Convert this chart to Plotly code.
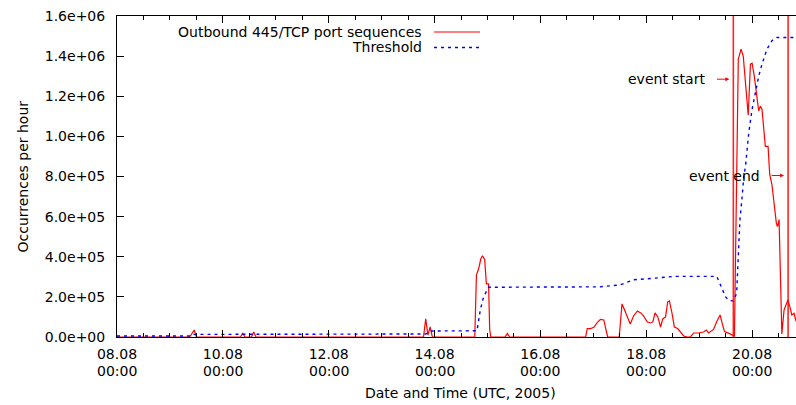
import plotly.graph_objects as go
import pandas as pd

series_names = ["Outbound 445/TCP port sequences", "Threshold"]

traffic_times = [
    "2005-08-08 00:00", "2005-08-09 09:00", "2005-08-09 11:00", "2005-08-09 12:00",
    "2005-08-10 08:00", "2005-08-10 09:00", "2005-08-10 10:00", "2005-08-10 13:00",
    "2005-08-10 14:00", "2005-08-10 15:00", "2005-08-13 19:00", "2005-08-13 20:00",
    "2005-08-13 21:00", "2005-08-13 22:00", "2005-08-13 23:00", "2005-08-14 18:15",
    "2005-08-14 19:00", "2005-08-14 20:00", "2005-08-14 21:00", "2005-08-14 21:45",
    "2005-08-14 22:45", "2005-08-14 23:30", "2005-08-15 00:30", "2005-08-15 01:00",
    "2005-08-15 01:30", "2005-08-15 08:00", "2005-08-15 09:00", "2005-08-15 10:00",
    "2005-08-16 20:30", "2005-08-16 21:15", "2005-08-16 22:45", "2005-08-17 00:15",
    "2005-08-17 01:45", "2005-08-17 03:15", "2005-08-17 04:45", "2005-08-17 05:30",
    "2005-08-17 06:30", "2005-08-17 11:45", "2005-08-17 13:00", "2005-08-17 14:00",
    "2005-08-17 15:30", "2005-08-17 16:45", "2005-08-17 18:15", "2005-08-17 20:00",
    "2005-08-17 21:30", "2005-08-17 22:45", "2005-08-18 00:30", "2005-08-18 02:00",
    "2005-08-18 03:00", "2005-08-18 04:00", "2005-08-18 05:15", "2005-08-18 06:30",
    "2005-08-18 07:30", "2005-08-18 08:45", "2005-08-18 09:45", "2005-08-18 10:30",
    "2005-08-18 11:45", "2005-08-18 12:45", "2005-08-18 14:15", "2005-08-18 15:30",
    "2005-08-18 17:00", "2005-08-18 18:30", "2005-08-18 20:00", "2005-08-18 21:30",
    "2005-08-18 23:45", "2005-08-19 02:00", "2005-08-19 03:15", "2005-08-19 04:15",
    "2005-08-19 06:30", "2005-08-19 08:00", "2005-08-19 09:30", "2005-08-19 10:30",
    "2005-08-19 11:30", "2005-08-19 13:30", "2005-08-19 15:00", "2005-08-19 16:00",
    "2005-08-19 17:45", "2005-08-19 19:00", "2005-08-19 20:00", "2005-08-19 21:00",
    "2005-08-19 22:15", "2005-08-19 23:15", "2005-08-20 00:00", "2005-08-20 01:00",
    "2005-08-20 02:15", "2005-08-20 03:00", "2005-08-20 03:45", "2005-08-20 04:30",
    "2005-08-20 06:00", "2005-08-20 07:15", "2005-08-20 08:00", "2005-08-20 09:00",
    "2005-08-20 11:00", "2005-08-20 11:30", "2005-08-20 12:15", "2005-08-20 12:45",
    "2005-08-20 13:15", "2005-08-20 13:30", "2005-08-20 14:30", "2005-08-20 16:15",
    "2005-08-20 17:30", "2005-08-20 18:00", "2005-08-20 19:00", "2005-08-20 20:00",
]
traffic_values = [
    0, 0, 35000, 0,
    0, 20000, 0, 0,
    25000, 0, 0, 90000,
    10000, 50000, 0, 0,
    310000, 340000, 390000, 405000,
    385000, 265000, 265000, 40000,
    0, 0, 18000, 0,
    0, 42000, 42000, 48000,
    72000, 88000, 85000, 50000,
    0, 0, 165000, 140000,
    100000, 65000, 105000, 130000,
    120000, 105000, 75000, 70000,
    75000, 120000, 100000, 50000,
    90000, 100000, 175000, 180000,
    115000, 50000, 42000, 25000,
    5000, 0, 0, 20000,
    20000, 25000, 35000, 20000,
    38000, 77000, 110000, 65000,
    27000, 18000, 10000, 5000,
    1385000, 1435000, 1400000, 1268000,
    1105000, 1360000, 1365000, 1300000,
    1200000, 1127000, 1150000, 1135000,
    950000, 950000, 810000, 760000,
    568000, 550000, 585000, 335000,
    60000, 15000, 135000, 185000,
    135000, 110000, 118000, 77000,
]

threshold_times = [
    "2005-08-08 00:00", "2005-08-09 10:00", "2005-08-09 11:00", "2005-08-10 14:00",
    "2005-08-10 15:00", "2005-08-13 20:00", "2005-08-13 22:30", "2005-08-14 19:15",
    "2005-08-14 20:45", "2005-08-14 22:15", "2005-08-15 00:30", "2005-08-17 03:00",
    "2005-08-17 12:15", "2005-08-17 18:15", "2005-08-18 03:30", "2005-08-18 12:30",
    "2005-08-19 08:00", "2005-08-19 09:30", "2005-08-19 12:00", "2005-08-19 13:30",
    "2005-08-19 15:30", "2005-08-19 17:00", "2005-08-19 17:30", "2005-08-19 18:30",
    "2005-08-19 19:30", "2005-08-19 20:15", "2005-08-19 21:00", "2005-08-19 22:30",
    "2005-08-20 00:00", "2005-08-20 01:30", "2005-08-20 03:00", "2005-08-20 04:30",
    "2005-08-20 06:45", "2005-08-20 09:00", "2005-08-20 11:15", "2005-08-20 20:00",
]
threshold_values = [
    5000, 5000, 13000, 13000,
    15000, 15000, 30000, 31000,
    135000, 200000, 248000, 250000,
    260000, 285000, 293000, 302000,
    302000, 262000, 200000, 182000,
    180000, 218000, 368000, 585000,
    700000, 800000, 850000, 1018000,
    1135000, 1218000, 1300000, 1360000,
    1435000, 1477000, 1493000, 1493000,
]

event_times = ["2005-08-19 15:30", "2005-08-20 16:20"]
event_labels = ["event start", "event end"]
event_label_values = [1285000, 805000]

x_range = ["2005-08-08 00:00", "2005-08-20 19:55"]
x_tick_values = ["2005-08-08", "2005-08-10", "2005-08-12", "2005-08-14",
                 "2005-08-16", "2005-08-18", "2005-08-20"]
x_tick_dates = ["08.08", "10.08", "12.08", "14.08", "16.08", "18.08", "20.08"]
x_tick_times = ["00:00", "00:00", "00:00", "00:00", "00:00", "00:00", "00:00"]
y_tick_values = [0, 200000, 400000, 600000, 800000, 1000000, 1200000, 1400000, 1600000]
y_tick_labels = ["0.0e+00", "2.0e+05", "4.0e+05", "6.0e+05", "8.0e+05",
                 "1.0e+06", "1.2e+06", "1.4e+06", "1.6e+06"]
x_title = "Date and Time (UTC, 2005)"
y_title = "Occurrences per hour"

FONT = "DejaVu Sans"
RED = "#ff0000"
BLUE = "#0000ff"

fig = go.Figure()
fig.add_trace(go.Scatter(
    x=pd.to_datetime(traffic_times), y=traffic_values, mode="lines",
    name=series_names[0], line=dict(color=RED, width=1.2), showlegend=False,
))
fig.add_trace(go.Scatter(
    x=pd.to_datetime(threshold_times), y=threshold_values, mode="lines",
    name=series_names[1], line=dict(color=BLUE, width=1.4, dash="3px,4px"),
    showlegend=False,
))

# event markers
for t in event_times:
    fig.add_shape(type="line", xref="x", yref="paper", x0=t, x1=t, y0=0, y1=1,
                  line=dict(color=RED, width=1.6), opacity=0.85)

for t, lab, v in zip(event_times, event_labels, event_label_values):
    fig.add_annotation(x=t, y=v, xref="x", yref="y", text="", showarrow=True,
                       ax=-18, ay=0, standoff=4, arrowcolor=RED, arrowwidth=1,
                       arrowhead=2, arrowsize=0.8)
    fig.add_annotation(x=t, y=v, xref="x", yref="y", text=lab, showarrow=False,
                       xanchor="right", yanchor="middle", xshift=-26,
                       font=dict(family=FONT, size=14, color="black"))

# second line of the x tick labels
for tv, tt in zip(x_tick_values, x_tick_times):
    fig.add_annotation(x=tv, y=0, xref="x", yref="paper", text=tt, showarrow=False,
                       xanchor="center", yanchor="middle", yshift=-34,
                       borderpad=0,
                       font=dict(family=FONT, size=14, color="black"))

# gnuplot-style key (text right aligned, sample to the right)
key_text_x = (424 - 117) / 679
key_line_x0 = (434 - 117) / 679
key_line_x1 = (480 - 117) / 679
key_rows = [1 - (32 - 16) / 321, 1 - (47.5 - 16) / 321]
key_styles = [dict(color=RED, width=1.2), dict(color=BLUE, width=1.4, dash="3px,4px")]
for name, yy, st in zip(series_names, key_rows, key_styles):
    fig.add_annotation(x=key_text_x, y=yy, xref="paper", yref="paper", text=name,
                       showarrow=False, xanchor="right", yanchor="middle",
                       font=dict(family=FONT, size=14, color="black"))
    fig.add_shape(type="line", xref="paper", yref="paper", x0=key_line_x0,
                  x1=key_line_x1, y0=yy, y1=yy, line=st)

# axis titles
fig.add_annotation(x=0, y=0.5, xref="paper", yref="paper", text=y_title,
                   textangle=-90, showarrow=False, xanchor="center", yanchor="middle",
                   xshift=-95, font=dict(family=FONT, size=14, color="black"))
fig.add_annotation(x=(460 - 117) / 679, y=0, xref="paper", yref="paper", text=x_title,
                   showarrow=False, xanchor="center", yanchor="middle", yshift=-56,
                   font=dict(family=FONT, size=14, color="black"))

fig.update_xaxes(
    type="date", range=x_range, tickvals=x_tick_values, ticktext=x_tick_dates,
    ticks="inside", ticklen=7, tickcolor="black", tickwidth=1,
    showline=True, linecolor="black", linewidth=1, mirror="ticks",
    showgrid=False, zeroline=False, ticklabelstandoff=4,
    minor=dict(dtick=12 * 3600 * 1000, ticks="inside", ticklen=4,
               tickcolor="black", showgrid=False),
    tickfont=dict(family=FONT, size=14, color="black"),
)
fig.update_yaxes(
    range=[0, 1600000], tickvals=y_tick_values, ticktext=y_tick_labels,
    ticks="inside", ticklen=7, tickcolor="black", tickwidth=1,
    showline=True, linecolor="black", linewidth=1, mirror=False,
    showgrid=False, zeroline=False, ticklabelstandoff=8,
    tickfont=dict(family=FONT, size=14, color="black"),
)
fig.update_layout(
    width=796, height=405,
    margin=dict(l=117, r=0, t=16, b=68),
    plot_bgcolor="white", paper_bgcolor="white",
    font=dict(family=FONT, size=14, color="black"),
    showlegend=False,
)
fig.write_html("out.html", config={"displayModeBar": False},
               post_script="document.body.style.margin='0';")
